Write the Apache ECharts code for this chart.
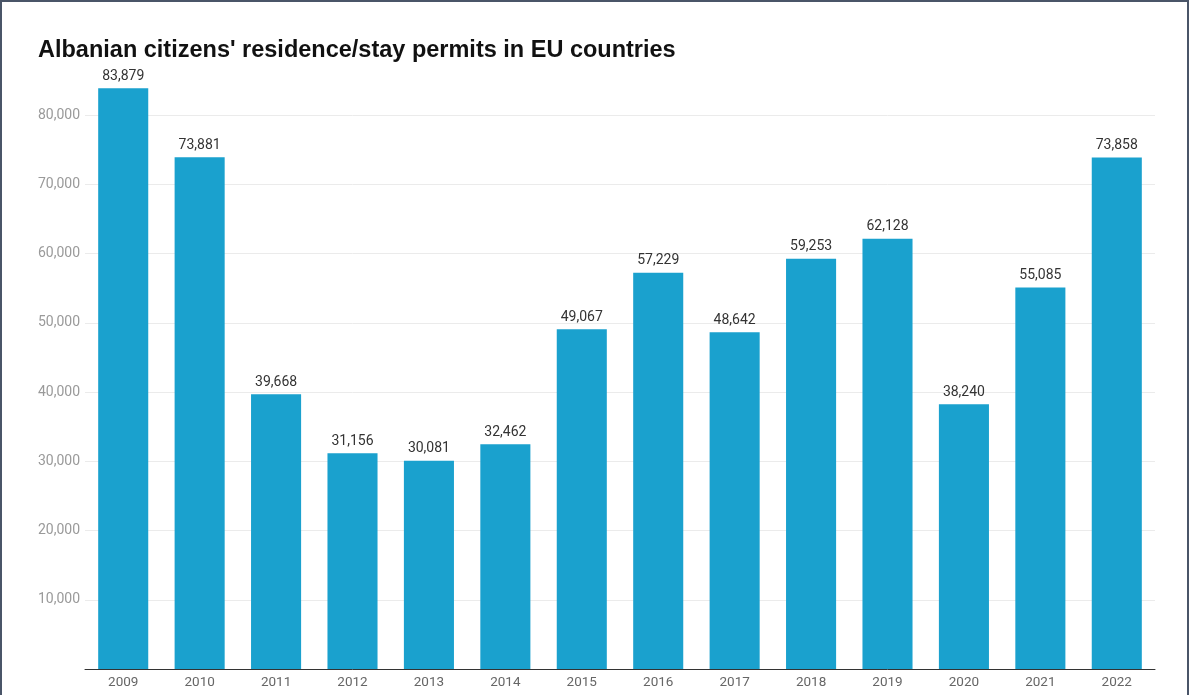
<!DOCTYPE html>
<html>
<head>
<meta charset="utf-8">
<script src="https://cdn.jsdelivr.net/npm/echarts@6/dist/echarts.min.js"></script>
<style>
html,body{margin:0;padding:0;background:#fff;}
#frame{position:absolute;left:0;top:0;width:1189px;height:695px;box-sizing:border-box;border-top:2px solid #4a5568;border-left:2px solid #4a5568;border-right:2px solid #4a5568;}
#chart{position:absolute;left:0;top:0;width:1189px;height:695px;}
</style>
</head>
<body>
<div id="chart"></div>
<div id="frame"></div>
<script>
const titleText = "Albanian citizens' residence/stay permits in EU countries";
const years = ["2009","2010","2011","2012","2013","2014","2015","2016","2017","2018","2019","2020","2021","2022"];
const permits = [83879, 73881, 39668, 31156, 30081, 32462, 49067, 57229, 48642, 59253, 62128, 38240, 55085, 73858];

const chart = echarts.init(document.getElementById('chart'), null, {renderer: 'canvas'});
const fmt = v => Number(v).toLocaleString('en-US');
chart.setOption({
  animation: false,
  backgroundColor: '#ffffff',
  title: {
    text: titleText,
    left: 33,
    top: 34,
    textStyle: {fontFamily: 'Liberation Sans, Arial, sans-serif', fontWeight: 'bold', fontSize: 23.5, color: '#111'}
  },
  grid: {left: 85, right: 34, top: 115, bottom: 26, containLabel: false},
  xAxis: {
    type: 'category',
    data: years,
    axisLine: {lineStyle: {color: '#333', width: 1}},
    axisTick: {show: false},
    axisLabel: {color: '#666', fontSize: 13.5, fontFamily: 'Roboto, sans-serif', margin: 7}
  },
  yAxis: {
    type: 'value',
    min: 0,
    max: 80000,
    interval: 10000,
    axisLine: {show: false},
    axisTick: {show: false},
    splitLine: {lineStyle: {color: '#ebebeb', width: 1}},
    axisLabel: {
      color: '#9a9a9a', fontSize: 14, fontFamily: 'Roboto, sans-serif', margin: 5,
      formatter: v => v === 0 ? '' : fmt(v)
    }
  },
  series: [{
    type: 'bar',
    data: permits,
    barWidth: '65.5%',
    clip: false,
    itemStyle: {color: '#1aa1ce'},
    label: {
      show: true,
      position: 'top',
      distance: 5,
      color: '#333',
      fontSize: 14,
      fontFamily: 'Roboto, sans-serif',
      formatter: p => fmt(p.value)
    }
  }]
});
</script>
</body>
</html>
